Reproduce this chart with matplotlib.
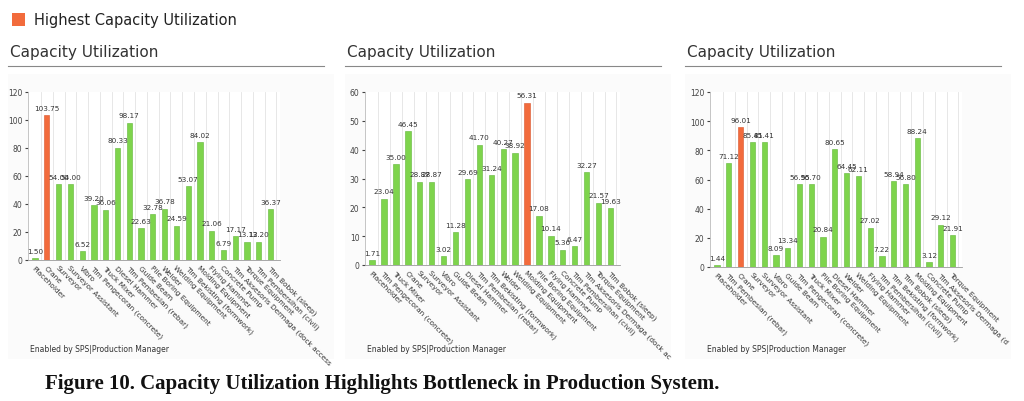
import matplotlib
matplotlib.use("Agg")
import matplotlib.pyplot as plt
from matplotlib.patches import Rectangle

cats1 = ["Placeholder", "Crane", "Surveyor", "Surveyor Assistant", "Vibro", "Tim Pengecoran (concrete)",
         "Truck Mixer", "Diesel Hammer", "Tim Pembesian (rebar)", "Guide Beam", "Pile Boring Equipment",
         "Welder", "Welding Equipment", "Tim Bekisting (formwork)", "Molding Equipment", "Flying Hammer",
         "Concrete Pump", "Tim Aksesoris Dermaga (dock access", "Torque Equipment", "Tim Pembersihan (civil)",
         "Tim Bobok (sleep)"]
vals1 = [1.50, 103.75, 54.00, 54.00, 6.52, 39.20, 36.06, 80.33, 98.17, 22.63, 32.78, 36.78, 24.59,
         53.07, 84.02, 21.06, 6.79, 17.17, 13.12, 13.20, 36.37]

cats2 = ["Placeholder", "Tim Pengecoran (concrete)", "Truck Mixer", "Crane", "Surveyor", "Surveyor Assistant",
         "Vibro", "Guide Beam", "Diesel Hammer", "Tim Pembesian (rebar)", "Tim Bekisting (formwork)", "Welder",
         "Welding Equipment", "Molding Equipment", "Pile Boring Equipment", "Flying Hammer", "Concrete Pump",
         "Tim Pembersihan (civil)", "Tim Aksesoris Dermaga (dock ac", "Torque Equipment", "Tim Bobok (sleep)"]
vals2 = [1.71, 23.04, 35.00, 46.45, 28.87, 28.87, 3.02, 11.28, 29.69, 41.70, 31.24, 40.27, 38.92, 56.31,
         17.08, 10.14, 5.36, 6.47, 32.27, 21.57, 19.63]

cats3 = ["Placeholder", "Tim Pembesian (rebar)", "Crane", "Surveyor", "Surveyor Assistant", "Vibro",
         "Guide Beam", "Tim Pengecoran (concrete)", "Truck Mixer", "Pile Boring Equipment", "Diesel Hammer",
         "Welder", "Welding Equipment", "Flying Hammer", "Tim Pembersihan (civil)", "Tim Bekisting (formwork)",
         "Tim Bobok (sleep)", "Molding Equipment", "Concrete Pump", "Tim Aksesoris Dermaga (d",
         "Torque Equipment"]
vals3 = [1.44, 71.12, 96.01, 85.41, 85.41, 8.09, 13.34, 56.95, 56.70, 20.84, 80.65, 64.45, 62.11, 27.02,
         7.22, 58.94, 56.80, 88.24, 3.12, 29.12, 21.91]

ymax = [120, 60, 120]
ystep = [20, 10, 20]

GREEN = "#7ed44c"
GREEN_E = "#5fb536"
ORANGE = "#f26b3c"

fig = plt.figure(figsize=(10.24, 4.02), dpi=100)
W, H = 1024, 402

def fx(x): return x / W
def fy(y): return 1 - y / H

fig.patches.append(Rectangle((fx(12), fy(27)), fx(13), 13 / H, transform=fig.transFigure,
                             facecolor=ORANGE, edgecolor="none"))
fig.text(fx(34), fy(20), "Highest Capacity Utilization", fontsize=10.5, va="center", color="#222222")

panels = [(8, 28, 280), (345, 365, 620), (685, 710, 962)]
datasets = [(cats1, vals1), (cats2, vals2), (cats3, vals3)]
bottoms = [261, 266, 268]

for (px, ax0, ax1), (cats, vals), ym, ys, yb in zip(panels, datasets, ymax, ystep, bottoms):
    bg = Rectangle((fx(px), fy(360)), fx(326), (360 - 75) / H, transform=fig.transFigure,
                   facecolor="#fbfbfb", edgecolor="none", zorder=-10)
    fig.add_artist(bg)
    fig.text(fx(px + 2), fy(53), "Capacity Utilization", fontsize=11, va="center", color="#333333")
    fig.add_artist(plt.Line2D([fx(px), fx(px + 316)], [fy(67), fy(67)], transform=fig.transFigure,
                              color="#888888", lw=0.8))
    ax = fig.add_axes([fx(ax0), fy(yb), fx(ax1 - ax0), (yb - 93) / H])
    ax.set_facecolor("white")
    x = list(range(len(vals)))
    mx = max(vals)
    colors = [ORANGE if v == mx else GREEN for v in vals]
    edges = ["#d9532a" if v == mx else GREEN_E for v in vals]
    ax.bar(x, vals, width=0.45, color=colors, edgecolor=edges, linewidth=0.4, zorder=3)
    for xi, v in zip(x, vals):
        ax.text(xi, v + ym * 0.025, f"{v:.2f}", ha="center", va="bottom", fontsize=5.2, color="#333333")
    ax.set_xlim(-0.6, len(vals) - 0.2)
    ax.set_ylim(0, ym)
    ax.set_yticks(range(0, ym + 1, ys))
    ax.tick_params(axis="y", labelsize=5.5, length=2, colors="#444444", pad=2)
    ax.set_xticks(x)
    ax.set_xticklabels(cats, rotation=-45, ha="left", rotation_mode="anchor", fontsize=5.3, color="#333333")
    ax.tick_params(axis="x", length=0, pad=3)
    for xi in x:
        ax.axvline(xi + 0.5, color="#e3e3e3", lw=0.6, zorder=1)
    for s in ["top", "right"]:
        ax.spines[s].set_visible(False)
    ax.spines["left"].set_color("#bbbbbb")
    ax.spines["bottom"].set_color("#999999")
    ax.spines["left"].set_linewidth(0.6)
    ax.spines["bottom"].set_linewidth(0.6)
    fig.text(fx(px + 22), fy(350), "Enabled by SPS|Production Manager", fontsize=5.5, va="center", color="#333333")

fig.text(fx(45), fy(384), "Figure 10. Capacity Utilization Highlights Bottleneck in Production System.",
         fontsize=15, fontweight="bold", family="Liberation Serif", va="center", color="#111111")

fig.savefig("out.png", dpi=100, facecolor="white")
